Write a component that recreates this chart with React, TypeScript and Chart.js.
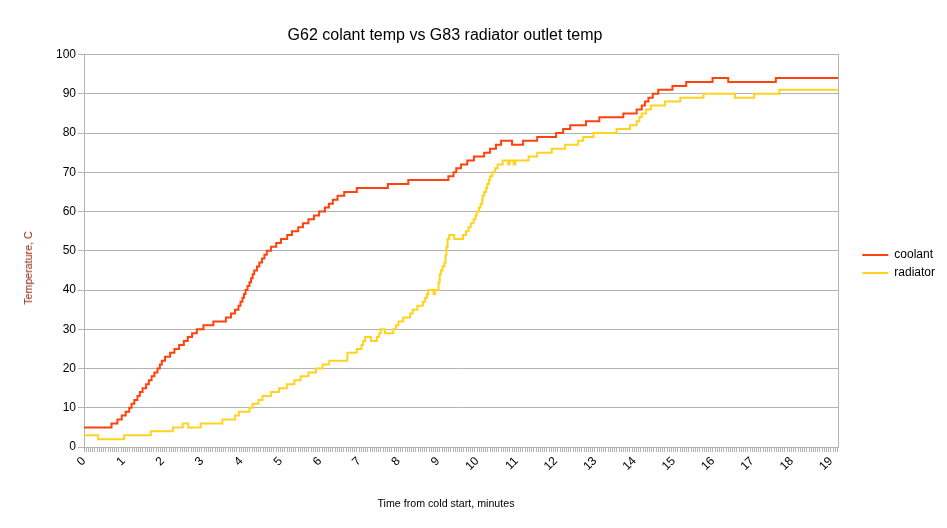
import React, { useEffect, useRef } from "react";
import { Chart, registerables } from "chart.js";

Chart.register(...registerables);

// ---- data (minutes from cold start -> temperature, value holds until next point) ----
const coolantMinutes = [
  0.0, 0.7, 0.85, 0.96, 1.06, 1.15, 1.21, 1.28, 1.36, 1.42, 1.49, 1.58, 1.65, 1.72, 1.79, 1.87,
  1.93, 1.98, 2.06, 2.19, 2.3, 2.42, 2.54, 2.64, 2.75, 2.87, 3.04, 3.29, 3.61, 3.74, 3.84, 3.93,
  3.98, 4.03, 4.07, 4.11, 4.16, 4.21, 4.25, 4.29, 4.33, 4.4, 4.46, 4.53, 4.59, 4.65, 4.76, 4.89,
  5.01, 5.17, 5.29, 5.45, 5.57, 5.71, 5.85, 5.98, 6.13, 6.23, 6.33, 6.45, 6.62, 6.94, 7.73, 8.25,
  9.27, 9.4, 9.47, 9.59, 9.75, 9.92, 10.18, 10.33, 10.48, 10.61, 10.89, 11.17, 11.53, 12.01,
  12.19, 12.37, 12.77, 13.11, 13.72, 14.06, 14.19, 14.27, 14.36, 14.47, 14.61, 14.97, 15.32,
  15.99, 16.39, 17.6, 19.19,
];
const coolantTemps = [
  5, 6, 7, 8, 9, 10, 11, 12, 13, 14, 15, 16, 17, 18, 19, 20,
  21, 22, 23, 24, 25, 26, 27, 28, 29, 30, 31, 32, 33, 34, 35, 36,
  37, 38, 39, 40, 41, 42, 43, 44, 45, 46, 47, 48, 49, 50, 51, 52,
  53, 54, 55, 56, 57, 58, 59, 60, 61, 62, 63, 64, 65, 66, 67, 68,
  69, 70, 71, 72, 73, 74, 75, 76, 77, 78, 77, 78, 79, 80,
  81, 82, 83, 84, 85, 86, 87, 88, 89, 90, 91, 92, 93,
  94, 93, 94, 94,
];

const radiatorMinutes = [
  0.0, 0.36, 1.02, 1.7, 2.26, 2.51, 2.65, 2.97, 3.52, 3.84, 3.94, 4.21, 4.29, 4.44, 4.54, 4.76,
  4.96, 5.16, 5.35, 5.51, 5.71, 5.9, 6.07, 6.24, 6.7, 6.94, 7.06, 7.1, 7.15, 7.3, 7.45, 7.51,
  7.55, 7.66, 7.87, 7.94, 8.0, 8.12, 8.3, 8.36, 8.48, 8.62, 8.68, 8.73, 8.76, 8.89, 8.93, 9.02,
  9.05, 9.08, 9.12, 9.17, 9.2, 9.22, 9.25, 9.29, 9.42, 9.64, 9.72, 9.78, 9.84, 9.91, 9.96, 9.99,
  10.05, 10.09, 10.13, 10.14, 10.18, 10.23, 10.26, 10.3, 10.33, 10.39, 10.46, 10.52, 10.65,
  10.79, 10.83, 10.93, 10.97, 11.31, 11.53, 11.9, 12.24, 12.57, 12.7, 12.96, 13.55, 13.89,
  14.06, 14.13, 14.19, 14.3, 14.42, 14.78, 15.17, 15.76, 16.56, 17.05, 17.69, 19.19,
];
const radiatorTemps = [
  3, 2, 3, 4, 5, 6, 5, 6, 7, 8, 9, 10, 11, 12, 13, 14,
  15, 16, 17, 18, 19, 20, 21, 22, 24, 25, 26, 27, 28, 27, 28, 29,
  30, 29, 30, 31, 32, 33, 34, 35, 36, 37, 38, 39, 40, 39, 40, 42,
  44, 45, 46, 47, 49, 51, 53, 54, 53, 54, 55, 56, 57, 58, 59, 60,
  61, 62, 63, 64, 65, 66, 67, 68, 69, 70, 71, 72, 73,
  72, 73, 72, 73, 74, 75, 76, 77, 78, 79, 80, 81, 82,
  83, 84, 85, 86, 87, 88, 89, 90, 89, 90, 91, 91,
];

const minuteLabels = [
  "0", "1", "2", "3", "4", "5", "6", "7", "8", "9",
  "10", "11", "12", "13", "14", "15", "16", "17", "18", "19",
];
const seriesNames = ["coolant", "radiator"];

const X_MAX = 19.19;
const SAMPLES_PER_MIN = 18;
const Y_MIN = 0;
const Y_MAX = 100;
const Y_STEP = 10;

const COOLANT_COLOR = "#ff420e";
const RADIATOR_COLOR = "#ffd320";
const GRID_COLOR = "#b3b3b3";
const FONT = "'Liberation Sans', Arial, sans-serif";

export default function App() {
  const canvasRef = useRef<HTMLCanvasElement>(null);

  useEffect(() => {
    const canvas = canvasRef.current;
    if (!canvas) return;
    const chart = new Chart(canvas, {
      type: "line",
      data: {
        datasets: [
          {
            label: seriesNames[0],
            data: coolantMinutes.map((x, i) => ({ x, y: coolantTemps[i] })),
            borderColor: COOLANT_COLOR,
            backgroundColor: COOLANT_COLOR,
            borderWidth: 2,
            pointRadius: 0,
            stepped: true,
            fill: false,
          },
          {
            label: seriesNames[1],
            data: radiatorMinutes.map((x, i) => ({ x, y: radiatorTemps[i] })),
            borderColor: RADIATOR_COLOR,
            backgroundColor: RADIATOR_COLOR,
            borderWidth: 2,
            pointRadius: 0,
            stepped: true,
            fill: false,
          },
        ],
      },
      options: {
        animation: false,
        responsive: false,
        maintainAspectRatio: false,
        layout: { padding: { left: 0, right: 2, top: 0, bottom: 0 } },
        plugins: {
          title: { display: false },
          tooltip: { enabled: false },
          legend: {
            position: "right",
            align: "center",
            labels: {
              boxWidth: 26,
              boxHeight: 2,
              padding: 6,
              color: "#000",
              font: { family: FONT, size: 12 },
              generateLabels: (c: any) =>
                Chart.defaults.plugins.legend.labels
                  .generateLabels(c)
                  .map((l: any) => ({ ...l, lineWidth: 0 })),
            },
          },
        },
        scales: {
          x: {
            type: "linear",
            position: "bottom",
            min: 0,
            max: X_MAX,
            afterBuildTicks: (scale: any) => {
              const n = Math.floor(X_MAX * SAMPLES_PER_MIN);
              const ticks = [];
              for (let i = 0; i <= n; i++) ticks.push({ value: i / SAMPLES_PER_MIN });
              scale.ticks = ticks;
            },
            afterFit: (scale: any) => {
              scale.height = 81;
            },
            ticks: {
              autoSkip: false,
              maxRotation: 45,
              minRotation: 45,
              padding: 2,
              color: "#000",
              font: { family: FONT, size: 12 },
              callback: (_v: any, i: number) =>
                i % SAMPLES_PER_MIN === 0 ? minuteLabels[i / SAMPLES_PER_MIN] ?? "" : "",
            },
            grid: {
              drawOnChartArea: false,
              drawTicks: true,
              tickLength: 5,
              color: GRID_COLOR,
            },
            border: { display: true, color: GRID_COLOR, width: 1 },
          },
          xTop: {
            type: "linear",
            position: "top",
            display: true,
            min: 0,
            max: X_MAX,
            ticks: { display: false },
            grid: { display: false, drawTicks: false },
            border: { display: false },
            afterFit: (scale: any) => {
              scale.height = 54.5;
            },
          },
          y: {
            type: "linear",
            position: "left",
            min: Y_MIN,
            max: Y_MAX,
            afterFit: (scale: any) => {
              scale.width = 84;
            },
            ticks: {
              stepSize: Y_STEP,
              padding: 2,
              color: "#000",
              font: { family: FONT, size: 12 },
            },
            grid: { color: GRID_COLOR, tickLength: 6, lineWidth: 1 },
            border: { display: true, color: GRID_COLOR, width: 1 },
          },
          yRight: {
            type: "linear",
            position: "right",
            display: true,
            min: Y_MIN,
            max: Y_MAX,
            ticks: { display: false },
            grid: { display: false, drawTicks: false },
            border: { display: true, color: GRID_COLOR, width: 1 },
            afterFit: (scale: any) => {
              scale.width = 18;
            },
          },
        },
      },
    } as any);
    return () => chart.destroy();
  }, []);

  return (
    <div
      style={{
        position: "fixed",
        left: 0,
        top: 0,
        width: 947,
        height: 528,
        background: "#fff",
        fontFamily: FONT,
      }}
    >
      <canvas
        ref={canvasRef}
        width={947}
        height={528}
        style={{ position: "absolute", left: 0, top: 0, width: 947, height: 528 }}
      />
      <div
        style={{
          position: "absolute",
          left: 0,
          top: 25,
          width: 890,
          textAlign: "center",
          fontSize: 16,
          lineHeight: "20px",
          color: "#000",
          whiteSpace: "nowrap",
        }}
      >
        G62 colant temp vs G83 radiator outlet temp
      </div>
      <div
        style={{
          position: "absolute",
          left: 0,
          top: 496,
          width: 892,
          textAlign: "center",
          fontSize: 10.67,
          lineHeight: "14px",
          color: "#000",
          whiteSpace: "nowrap",
        }}
      >
        Time from cold start, minutes
      </div>
      <div
        style={{
          position: "absolute",
          left: 28,
          top: 268,
          transform: "translate(-50%, -50%) rotate(-90deg)",
          fontSize: 10.67,
          lineHeight: "14px",
          color: "#8a1c00",
          whiteSpace: "nowrap",
        }}
      >
        Temperature, C
      </div>
    </div>
  );
}
